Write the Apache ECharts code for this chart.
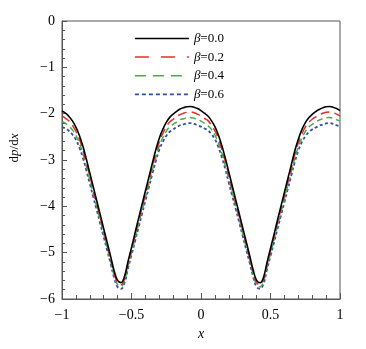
<!DOCTYPE html>
<html><head><meta charset="utf-8">
<script src="https://cdn.jsdelivr.net/npm/echarts@6/dist/echarts.min.js"></script>
<style>html,body{margin:0;padding:0;background:#fff}#c{width:366px;height:349px}</style>
</head><body><div id="c"></div>
<script>
var xValues = [-1.000,-0.975,-0.950,-0.925,-0.900,-0.875,-0.850,-0.825,-0.800,-0.775,-0.750,-0.725,-0.700,-0.675,-0.650,-0.625,-0.600,-0.575,-0.550,-0.525,-0.500,-0.475,-0.450,-0.425,-0.400,-0.375,-0.350,-0.325,-0.300,-0.275,-0.250,-0.225,-0.200,-0.175,-0.150,-0.125,-0.100,-0.075,-0.050,-0.025,0.000,0.025,0.050,0.075,0.100,0.125,0.150,0.175,0.200,0.225,0.250,0.275,0.300,0.325,0.350,0.375,0.400,0.425,0.450,0.475,0.500,0.525,0.550,0.575,0.600,0.625,0.650,0.675,0.700,0.725,0.750,0.775,0.800,0.825,0.850,0.875,0.900,0.925,0.950,0.975,1.000];
var beta00 = [-1.94,-1.99,-2.06,-2.155,-2.29,-2.47,-2.70,-2.98,-3.28,-3.58,-3.88,-4.18,-4.48,-4.78,-5.08,-5.39,-5.60,-5.647,-5.51,-5.19,-4.89,-4.58,-4.27,-3.97,-3.67,-3.37,-3.07,-2.78,-2.53,-2.34,-2.19,-2.08,-2.01,-1.95,-1.90,-1.87,-1.85,-1.845,-1.86,-1.89,-1.935,-1.99,-2.05,-2.15,-2.28,-2.46,-2.69,-2.96,-3.26,-3.56,-3.86,-4.16,-4.46,-4.76,-5.06,-5.37,-5.60,-5.65,-5.53,-5.21,-4.91,-4.61,-4.30,-4.00,-3.70,-3.40,-3.10,-2.80,-2.55,-2.35,-2.20,-2.09,-2.015,-1.955,-1.91,-1.875,-1.85,-1.845,-1.86,-1.89,-1.935];
var beta02 = [-2.05,-2.10,-2.16,-2.25,-2.38,-2.55,-2.78,-3.06,-3.35,-3.65,-3.95,-4.24,-4.54,-4.83,-5.13,-5.44,-5.65,-5.69,-5.56,-5.24,-4.94,-4.64,-4.33,-4.04,-3.74,-3.44,-3.15,-2.86,-2.61,-2.43,-2.28,-2.18,-2.12,-2.06,-2.02,-1.99,-1.97,-1.965,-1.98,-2.01,-2.05,-2.10,-2.15,-2.25,-2.37,-2.54,-2.77,-3.04,-3.33,-3.63,-3.93,-4.22,-4.52,-4.82,-5.11,-5.42,-5.65,-5.69,-5.58,-5.26,-4.96,-4.67,-4.36,-4.07,-3.77,-3.47,-3.18,-2.88,-2.63,-2.44,-2.29,-2.19,-2.12,-2.07,-2.03,-1.99,-1.97,-1.965,-1.98,-2.01,-2.05];
var beta04 = [-2.17,-2.21,-2.27,-2.35,-2.47,-2.64,-2.86,-3.14,-3.43,-3.72,-4.01,-4.30,-4.60,-4.89,-5.18,-5.49,-5.69,-5.73,-5.60,-5.29,-5.00,-4.70,-4.39,-4.10,-3.81,-3.52,-3.22,-2.94,-2.70,-2.52,-2.38,-2.28,-2.23,-2.18,-2.13,-2.11,-2.09,-2.085,-2.10,-2.13,-2.16,-2.21,-2.26,-2.34,-2.46,-2.63,-2.85,-3.12,-3.41,-3.70,-3.99,-4.28,-4.58,-4.87,-5.16,-5.47,-5.69,-5.74,-5.62,-5.31,-5.02,-4.72,-4.42,-4.13,-3.84,-3.55,-3.25,-2.96,-2.72,-2.53,-2.39,-2.29,-2.23,-2.18,-2.14,-2.11,-2.09,-2.085,-2.10,-2.13,-2.16];
var beta06 = [-2.29,-2.32,-2.37,-2.45,-2.56,-2.73,-2.95,-3.22,-3.51,-3.80,-4.08,-4.37,-4.66,-4.95,-5.24,-5.54,-5.74,-5.78,-5.65,-5.34,-5.05,-4.76,-4.46,-4.17,-3.88,-3.59,-3.30,-3.02,-2.78,-2.61,-2.48,-2.39,-2.34,-2.29,-2.25,-2.23,-2.21,-2.205,-2.22,-2.25,-2.28,-2.32,-2.36,-2.44,-2.55,-2.72,-2.94,-3.20,-3.49,-3.78,-4.06,-4.35,-4.64,-4.93,-5.22,-5.52,-5.74,-5.78,-5.67,-5.36,-5.07,-4.78,-4.49,-4.20,-3.91,-3.62,-3.33,-3.04,-2.80,-2.62,-2.49,-2.40,-2.34,-2.30,-2.26,-2.235,-2.21,-2.205,-2.22,-2.25,-2.28];
var seriesNames = ['β=0.0','β=0.2','β=0.4','β=0.6'];
var xTicks = [-1, -0.5, 0, 0.5, 1];
var yTicks = [-6, -5, -4, -3, -2, -1, 0];

function pairs(ys){ return xValues.map(function(x,i){ return [x, ys[i]]; }); }
var serif = '"Liberation Serif", "DejaVu Serif", serif';
function fmt(v){ return String(v).replace('-', '\u2212'); }

var chart = echarts.init(document.getElementById('c'), null, {renderer:'canvas'});
var defs = [
  {name: seriesNames[3], data: beta06, color:'#2f4fa6', dash:[3,2.5], legendDash:[4,3], width:1.8},
  {name: seriesNames[2], data: beta04, color:'#4aa848', dash:[6,4], legendDash:[11,7], width:1.5},
  {name: seriesNames[1], data: beta02, color:'#e0302a', dash:[9,5], legendDash:[14,12], width:1.5},
  {name: seriesNames[0], data: beta00, color:'#000000', dash:null, legendDash:null, width:1.6}
];
var legendItems = seriesNames.map(function(n){
  var d = defs.filter(function(s){ return s.name === n; })[0];
  return {name:n, lineStyle:{color:d.color, width:d.width, type: d.legendDash ? d.legendDash : 'solid'}};
});
chart.setOption({
  animation:false,
  backgroundColor:'#fff',
  grid:{left:62, right:26, top:21, bottom:50, show:true, borderColor:'#555', borderWidth:1, backgroundColor:'transparent'},
  legend:{
    orient:'vertical', left:134, top:32, padding:0, itemWidth:54, itemHeight:14, itemGap:5.6,
    data: legendItems,
    itemStyle:{opacity:0},
    formatter:function(n){ return '{i|β}{r|' + n.slice(1) + '}'; },
    textStyle:{color:'#000', fontFamily:serif, fontSize:13,
      rich:{i:{fontStyle:'italic', fontFamily:serif, fontSize:13, color:'#000'}, r:{fontFamily:serif, fontSize:13, color:'#000'}}}
  },
  xAxis:{
    type:'value', min:xTicks[0], max:xTicks[xTicks.length-1], interval:0.5,
    name:'x', nameLocation:'middle', nameGap:28,
    nameTextStyle:{fontFamily:serif, fontStyle:'italic', fontSize:14, color:'#000'},
    axisLine:{show:true, onZero:false, lineStyle:{color:'#555', width:1}},
    axisTick:{show:true, inside:true, length:6, lineStyle:{color:'#555'}},
    minorTick:{show:true, splitNumber:5, length:4, lineStyle:{color:'#555'}},
    axisLabel:{margin:9, fontFamily:serif, fontSize:14, color:'#000', formatter:fmt},
    splitLine:{show:false}
  },
  yAxis:{
    type:'value', min:yTicks[0], max:yTicks[yTicks.length-1], interval:1,
    axisLine:{show:true, onZero:false, lineStyle:{color:'#555', width:1}},
    axisTick:{show:true, inside:true, length:5, lineStyle:{color:'#555'}},
    minorTick:{show:true, splitNumber:5, length:3, lineStyle:{color:'#555'}},
    axisLabel:{margin:7, fontFamily:serif, fontSize:14, color:'#000', formatter:fmt},
    splitLine:{show:false}
  },
  graphic:[{
    type:'text', x:15, y:148, rotation:Math.PI/2,
    style:{text:'{r|d}{i|p}{r|/d}{i|x}', align:'center', verticalAlign:'middle', fill:'#000',
      font:'13px ' + serif,
      rich:{r:{fontFamily:serif, fontSize:13, fill:'#000'}, i:{fontFamily:serif, fontSize:13, fontStyle:'italic', fill:'#000'}}}
  }],
  series: defs.map(function(d){
    return {type:'line', name:d.name, data:pairs(d.data), smooth:0.4, symbol:'none', showSymbol:false,
      color:d.color,
      lineStyle:{color:d.color, width:d.width, type: d.dash ? d.dash : 'solid'}};
  })
});
</script></body></html>
